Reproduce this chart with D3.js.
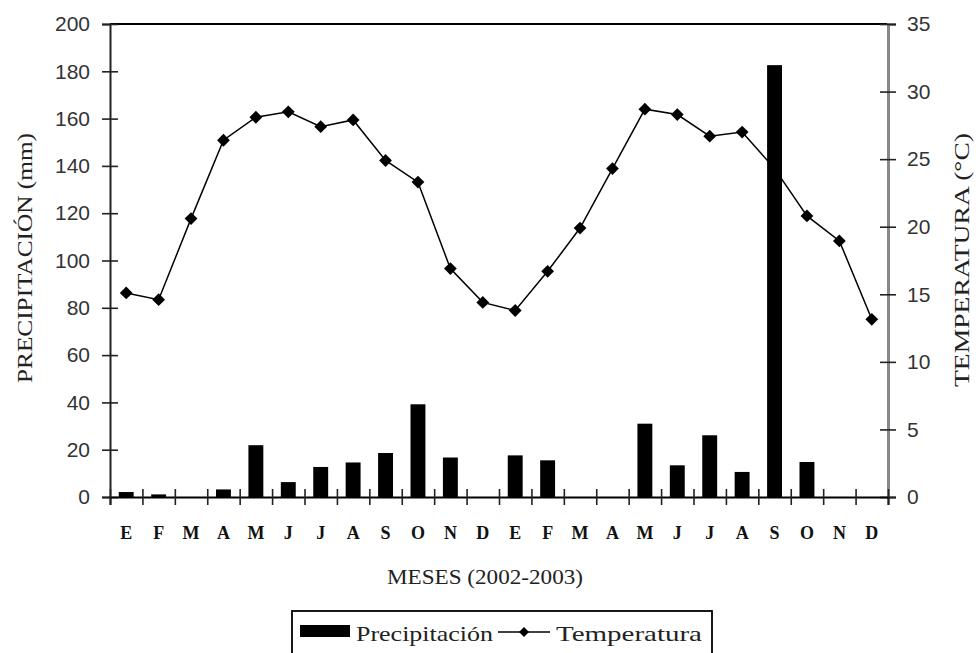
<!DOCTYPE html>
<html>
<head>
<meta charset="utf-8">
<script src="https://cdn.jsdelivr.net/npm/d3@7"></script>
<style>
  body { margin: 0; background: #fff; }
  svg { display: block; }
</style>
</head>
<body>
<div id="chart"></div>
<script>
// months 2002-2003
var months = ["E", "F", "M", "A", "M", "J", "J", "A", "S", "O", "N", "D",
              "E", "F", "M", "A", "M", "J", "J", "A", "S", "O", "N", "D"];
// precipitation (mm)
var precipitacion = [2.1, 1.1, 0, 3.2, 21.9, 6.3, 12.7, 14.6, 18.6, 39.2, 16.7, 0,
                     17.6, 15.5, 0, 0, 31, 13.4, 26.1, 10.6, 182.6, 14.8, 0, 0];
// temperature (C)
var temperatura = [15.1, 14.6, 20.6, 26.4, 28.1, 28.5, 27.4, 27.9, 24.9, 23.3, 16.9, 14.4,
                   13.8, 16.7, 19.9, 24.3, 28.7, 28.3, 26.7, 27.0, 24.3, 20.8, 18.95, 13.15];
var precipTicks = [0, 20, 40, 60, 80, 100, 120, 140, 160, 180, 200];
var tempTicks = [0, 5, 10, 15, 20, 25, 30, 35];

var W = 976, H = 653;
var margin = { top: 24, right: 88, bottom: 156, left: 110 },
    width = W - margin.left - margin.right,
    height = H - margin.top - margin.bottom;

var data = months.map(function (m, i) {
    return { i: i, mes: m, p: precipitacion[i], t: temperatura[i] };
});

var svg = d3.select("#chart").append("svg")
    .attr("width", W)
    .attr("height", H);

var g = svg.append("g")
    .attr("transform", "translate(" + margin.left + "," + margin.top + ")");

var xScale = d3.scaleBand()
    .domain(d3.range(months.length))
    .range([0, width])
    .paddingInner(0.54)
    .paddingOuter(0.27);

// boundaries between months, for the tick marks
var xEdge = d3.scaleLinear()
    .domain([0, months.length])
    .range([0, width]);

var yLeft = d3.scaleLinear().domain([0, 200]).range([height, 0]);
var yRight = d3.scaleLinear().domain([0, 35]).range([height, 0]);

// top frame line
g.append("line")
    .attr("x1", 0).attr("x2", width)
    .attr("y1", 0).attr("y2", 0)
    .attr("stroke", "#000")
    .attr("stroke-width", 2);

// temperature line (drawn under the bars)
var line = d3.line()
    .x(function (d) { return xScale(d.i) + xScale.bandwidth() / 2; })
    .y(function (d) { return yRight(d.t); });

g.append("path")
    .datum(data)
    .attr("fill", "none")
    .attr("stroke", "#000")
    .attr("stroke-width", 1.5)
    .attr("d", line);

g.selectAll(".punto")
    .data(data)
    .enter().append("path")
    .attr("class", "punto")
    .attr("d", d3.symbol(d3.symbolSquare).size(82))
    .attr("transform", function (d) {
        return "translate(" + (xScale(d.i) + xScale.bandwidth() / 2) + "," + yRight(d.t) + ") rotate(45)";
    })
    .attr("fill", "#000");

// precipitation bars
g.selectAll(".bar")
    .data(data.filter(function (d) { return d.p > 0; }))
    .enter().append("rect")
    .attr("class", "bar")
    .attr("x", function (d) { return xScale(d.i); })
    .attr("y", function (d) { return yLeft(d.p); })
    .attr("width", xScale.bandwidth())
    .attr("height", function (d) { return height - yLeft(d.p); })
    .attr("fill", "#000");

// left axis
var leftAxis = g.append("g")
    .call(d3.axisLeft(yLeft).tickValues(precipTicks).tickSize(8).tickPadding(12));
leftAxis.select(".domain").attr("stroke", "#222").attr("stroke-width", 2);
leftAxis.selectAll(".tick line").attr("x2", 8).attr("x1", -8).attr("stroke", "#222").attr("stroke-width", 1.6);
leftAxis.selectAll("text")
    .attr("font-family", "'Liberation Sans', Arial, sans-serif")
    .attr("font-size", 21)
    .attr("fill", "#333");

// right axis
var rightAxis = g.append("g")
    .attr("transform", "translate(" + width + ",0)")
    .call(d3.axisRight(yRight).tickValues(tempTicks).tickSize(8).tickPadding(11));
rightAxis.select(".domain").attr("stroke", "#888").attr("stroke-width", 3);
rightAxis.selectAll(".tick line").attr("x1", -8).attr("x2", 8).attr("stroke", "#222").attr("stroke-width", 1.6);
rightAxis.selectAll("text")
    .attr("font-family", "'Liberation Sans', Arial, sans-serif")
    .attr("font-size", 21)
    .attr("fill", "#333");

// x axis: boundary ticks
var xAxis = g.append("g")
    .attr("transform", "translate(0," + height + ")")
    .call(d3.axisBottom(xEdge).tickValues(d3.range(months.length + 1)).tickSize(8).tickFormat(""));
xAxis.select(".domain").attr("stroke", "#000").attr("stroke-width", 2);
xAxis.selectAll(".tick line").attr("y1", -8).attr("y2", 8).attr("stroke", "#222").attr("stroke-width", 1.6);

// x axis: month labels
var xLabels = g.append("g")
    .attr("transform", "translate(0," + height + ")")
    .call(d3.axisBottom(xScale).tickSize(0).tickPadding(29)
        .tickFormat(function (i) { return months[i]; }));
xLabels.select(".domain").remove();
xLabels.selectAll("text")
    .attr("font-family", "'Liberation Serif', 'Times New Roman', serif")
    .attr("font-weight", "bold")
    .attr("font-size", 18)
    .attr("fill", "#111");

// axis titles
svg.append("text")
    .attr("x", 485)
    .attr("y", 584)
    .attr("text-anchor", "middle")
    .attr("font-family", "'Liberation Serif', 'Times New Roman', serif")
    .attr("font-size", 21)
    .attr("textLength", 196)
    .attr("lengthAdjust", "spacingAndGlyphs")
    .attr("fill", "#222")
    .text("MESES (2002-2003)");

svg.append("text")
    .attr("transform", "translate(32,258) rotate(-90)")
    .attr("text-anchor", "middle")
    .attr("font-family", "'Liberation Serif', 'Times New Roman', serif")
    .attr("font-size", 21)
    .attr("textLength", 250)
    .attr("lengthAdjust", "spacingAndGlyphs")
    .attr("fill", "#222")
    .text("PRECIPITACIÓN (mm)");

svg.append("text")
    .attr("transform", "translate(969,260) rotate(-90)")
    .attr("text-anchor", "middle")
    .attr("font-family", "'Liberation Serif', 'Times New Roman', serif")
    .attr("font-size", 21)
    .attr("textLength", 254)
    .attr("lengthAdjust", "spacingAndGlyphs")
    .attr("fill", "#222")
    .text("TEMPERATURA (°C)");

// legend
var legend = svg.append("g").attr("class", "legend");

legend.append("rect")
    .attr("x", 292).attr("y", 611)
    .attr("width", 420).attr("height", 60)
    .attr("fill", "none")
    .attr("stroke", "#000")
    .attr("stroke-width", 1.8);

legend.append("rect")
    .attr("x", 300).attr("y", 625)
    .attr("width", 50).attr("height", 12)
    .attr("fill", "#000");

legend.append("text")
    .attr("x", 356).attr("y", 641)
    .attr("font-family", "'Liberation Serif', 'Times New Roman', serif")
    .attr("font-size", 21)
    .attr("textLength", 137)
    .attr("lengthAdjust", "spacingAndGlyphs")
    .attr("fill", "#222")
    .text("Precipitación");

legend.append("line")
    .attr("x1", 498).attr("x2", 550)
    .attr("y1", 632).attr("y2", 632)
    .attr("stroke", "#000")
    .attr("stroke-width", 1.6);

legend.append("path")
    .attr("d", d3.symbol(d3.symbolSquare).size(50))
    .attr("transform", "translate(524,632) rotate(45)")
    .attr("fill", "#000");

legend.append("text")
    .attr("x", 556).attr("y", 641)
    .attr("font-family", "'Liberation Serif', 'Times New Roman', serif")
    .attr("font-size", 21)
    .attr("textLength", 146)
    .attr("lengthAdjust", "spacingAndGlyphs")
    .attr("fill", "#222")
    .text("Temperatura");
</script>
</body>
</html>
